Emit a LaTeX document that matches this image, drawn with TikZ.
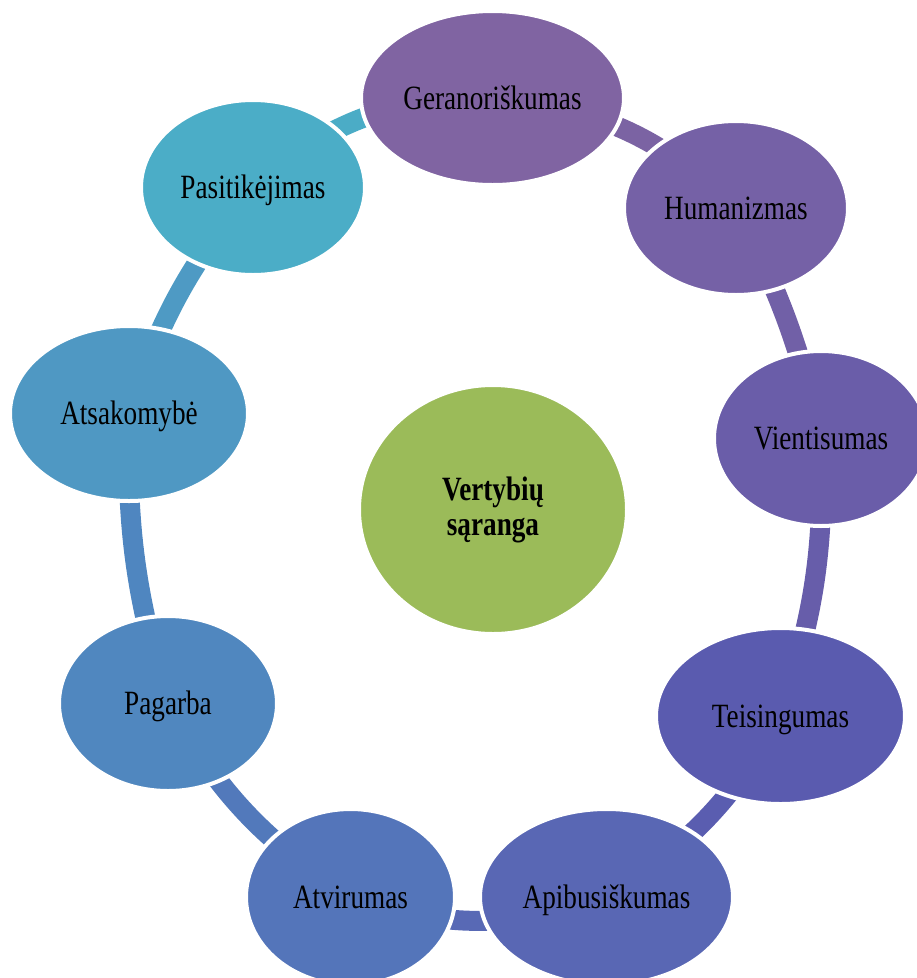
\documentclass[tikz,border=0pt]{standalone}
\usepackage{fontspec}
\setmainfont{Liberation Serif}[FakeStretch=0.8]
\usetikzlibrary{shapes.geometric,backgrounds}

% node fills
\definecolor{cGer}{HTML}{8064A2}
\definecolor{cHum}{HTML}{7561A6}
\definecolor{cVie}{HTML}{6A5DA9}
\definecolor{cTei}{HTML}{5A5BAF}
\definecolor{cApi}{HTML}{5967B4}
\definecolor{cAtv}{HTML}{5475BA}
\definecolor{cPag}{HTML}{5087BF}
\definecolor{cAts}{HTML}{4F98C3}
\definecolor{cPas}{HTML}{4BADC7}
\definecolor{cCore}{HTML}{9BBB59}
% ring segments
\definecolor{lA}{HTML}{7B63A3}
\definecolor{lB}{HTML}{7160A7}
\definecolor{lC}{HTML}{675DAA}
\definecolor{lD}{HTML}{5A5DB0}
\definecolor{lE}{HTML}{5869B5}
\definecolor{lF}{HTML}{5279BB}
\definecolor{lG}{HTML}{4F86C0}
\definecolor{lH}{HTML}{4E9AC4}
\definecolor{lI}{HTML}{4BACC6}

\newcommand\ringlabel[1]{\makebox[0pt]{#1}}

\tikzset{
  ringnode/.style={ellipse, draw=white, line width=4pt, inner sep=0pt,
    text height=22pt, text depth=0pt, font=\fontsize{34}{36}\selectfont},
  corenode/.style={ellipse, draw=white, line width=4pt, inner sep=0pt, fill=cCore,
    align=center, font=\fontsize{34}{35}\selectfont\bfseries},
  ringlink/.style={line width=20pt},
}

\begin{document}
\begin{tikzpicture}[x=1pt,y=1pt]
\useasboundingbox (0,0) rectangle (917,-978);

\node[ringnode, fill=cGer, minimum width=263pt, minimum height=174pt] (ger) at (492.5,-98) {\ringlabel{Geranoriškumas}};
\node[ringnode, fill=cHum, minimum width=224pt, minimum height=174pt] (hum) at (736,-208) {\ringlabel{Humanizmas}};
\node[ringnode, fill=cVie, minimum width=214pt, minimum height=175pt] (vie) at (821,-438.5) {\ringlabel{Vientisumas}};
\node[ringnode, fill=cTei, minimum width=249pt, minimum height=176pt] (tei) at (780.5,-716) {\ringlabel{Teisingumas}};
\node[ringnode, fill=cApi, minimum width=253pt, minimum height=176pt] (api) at (606.5,-897) {\ringlabel{Apibusiškumas}};
\node[ringnode, fill=cAtv, minimum width=209pt, minimum height=176pt] (atv) at (350.5,-897) {\ringlabel{Atvirumas}};
\node[ringnode, fill=cPag, minimum width=218pt, minimum height=175pt] (pag) at (168,-703.5) {\ringlabel{Pagarba}};
\node[ringnode, fill=cAts, minimum width=238pt, minimum height=175pt] (ats) at (129,-413.5) {\ringlabel{Atsakomybė}};
\node[ringnode, fill=cPas, minimum width=224pt, minimum height=175pt] (pas) at (253,-187.5) {\ringlabel{Pasitikėjimas}};

\node[corenode, minimum width=268pt, minimum height=249pt] (core) at (493,-509.5) {Vertybių\\sąranga};

% ring segments, drawn behind the ellipses
\begin{scope}[on background layer]
\draw[ringlink, lA] (ger.center) to[bend left=19] (hum.center);
\draw[ringlink, lB] (hum.center) to[bend left=7] (vie.center);
\draw[ringlink, lC] (vie.center) to[bend left=10] (tei.center);
\draw[ringlink, lD] (tei.center) to[bend left=14] (api.center);
\draw[ringlink, lE] (api.center) to[bend left=18.6] (atv.center);
\draw[ringlink, lF] (atv.center) to[bend left=13.6] (pag.center);
\draw[ringlink, lG] (pag.center) to[bend left=9] (ats.center);
\draw[ringlink, lH] (ats.center) to[bend left=10.6] (pas.center);
\draw[ringlink, lI] (pas.center) to[bend left=20.8] (ger.center);
\end{scope}
\end{tikzpicture}
\end{document}
